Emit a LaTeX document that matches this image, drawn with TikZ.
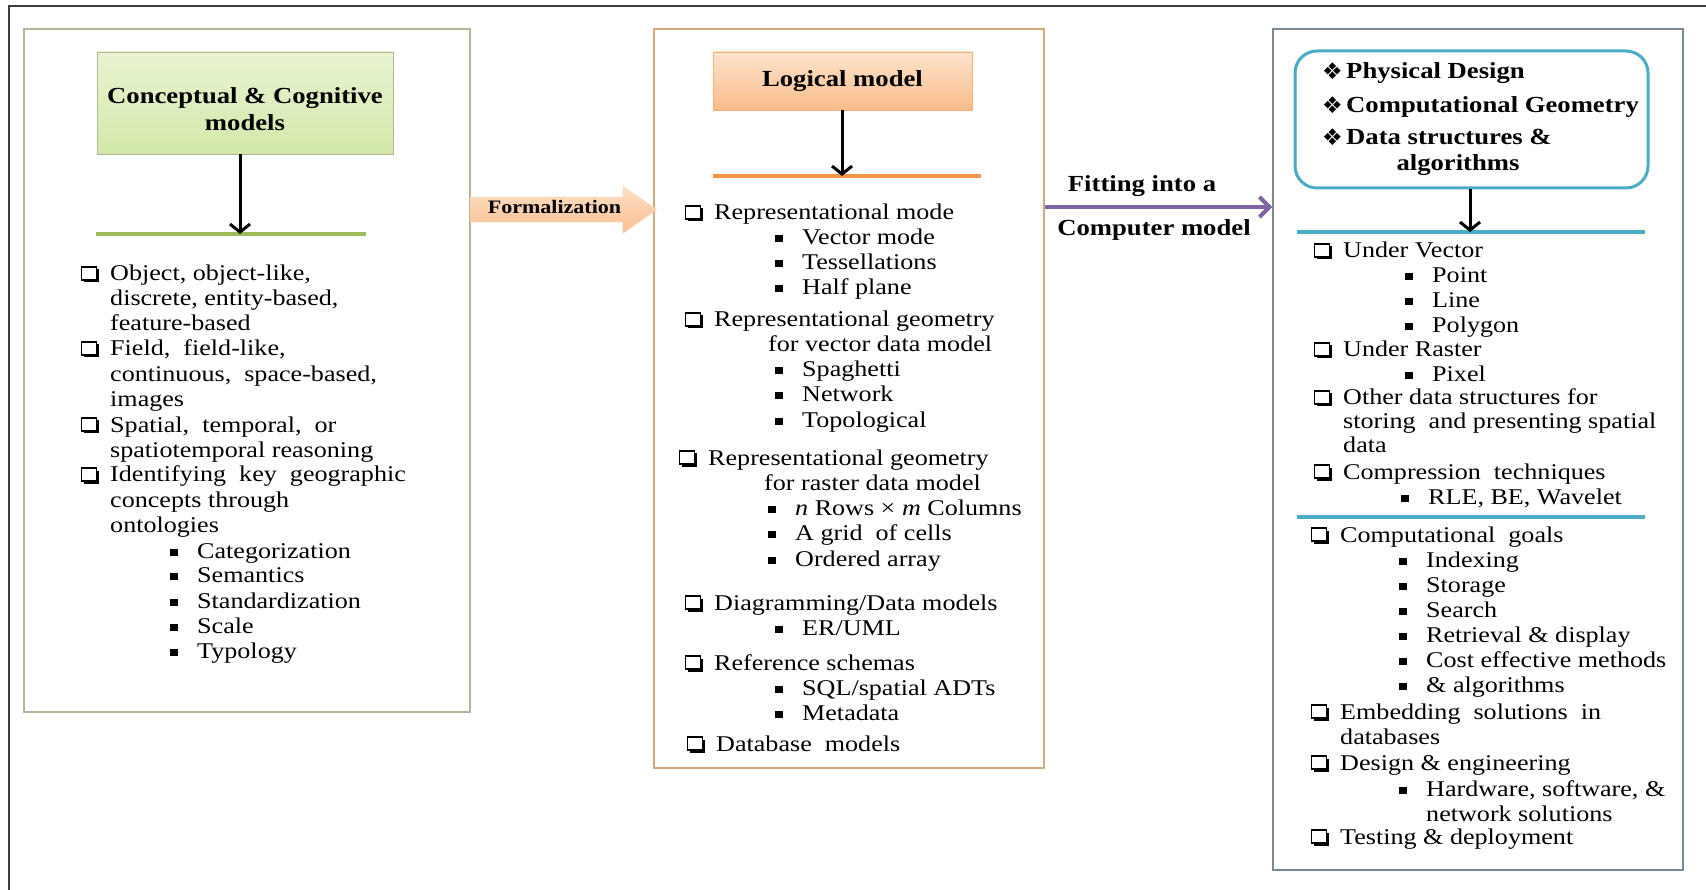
\documentclass[tikz,border=0pt]{standalone}
\usepackage{fontspec}
\setmainfont{Liberation Serif}[FakeStretch=1.16]
\newfontfamily\symfont{DejaVu Sans}
\usetikzlibrary{arrows.meta,shapes.arrows,shadows}
\definecolor{frameg}{HTML}{3C3C3C}
\definecolor{olivebox}{HTML}{B4B496}
\definecolor{tanbox}{HTML}{D2AA7A}
\definecolor{bluebox}{HTML}{7A8896}
\definecolor{greenln}{HTML}{9BBB59}
\definecolor{orangeln}{HTML}{F79646}
\definecolor{tealln}{HTML}{4BACC6}
\definecolor{purpln}{HTML}{8064A2}

\begin{document}
\begin{tikzpicture}[x=1pt,y=-1pt,
	bigbox/.style={draw, line width=1.5pt, inner sep=0pt},
	txt/.style={anchor=base west, inner sep=0pt, text height=18pt, text depth=3pt, font={\fontsize{22.5}{27}\selectfont}},
	cbox/.style={draw, fill=white, line width=1.5pt, minimum width=15pt, minimum height=13pt, inner sep=0pt, label distance=13pt, drop shadow={shadow xshift=2.5pt, shadow yshift=-2.5pt, opacity=1, fill=black}},
	sqb/.style={fill=black, minimum width=7.5pt, minimum height=7pt, inner sep=0pt, label distance=19pt, yshift=-1.5pt},
	chk/.style={txt, label={[cbox]left:{}}},
	bul/.style={txt, label={[sqb]left:{}}},
	dia/.style={font={\symfont\fontsize{23}{26}\selectfont}, inner sep=0pt, label distance=3pt},
	hd/.style={anchor=base west, inner sep=0pt, text height=18pt, text depth=3pt, font={\bfseries\fontsize{23}{27}\selectfont}},
	bold/.style={inner sep=0pt, font={\bfseries\fontsize{23}{27}\selectfont}},
	dnarrow/.style={line width=3pt, -{Straight Barb[length=8pt,width=20pt]}},
	sep/.style={line width=4pt}]
				\useasboundingbox (0,0) rectangle (1706,890);
				\fill[white] (0,0) rectangle (1706,890);
				\draw[frameg, line width=2pt] (9,890) -- (9,6) -- (1706,6);
				\node[bigbox, draw=olivebox, minimum width=446pt, minimum height=683pt] (leftbox) at (247,370.5) {};
				\node[bigbox, draw=tanbox, minimum width=390pt, minimum height=739pt] (midbox) at (849,398.5) {};
				\node[bigbox, draw=bluebox, minimum width=410pt, minimum height=841pt] (rightbox) at (1478,449.5) {};
				\node[draw=olivebox, line width=0.8pt, top color={rgb,255:red,232;green,244;blue,210}, bottom color={rgb,255:red,211;green,232;blue,170}, minimum width=296pt, minimum height=102pt] (concept) at (245,103) {};
				\node[bold, align=center] (concepttxt) at (245,109) {Conceptual \& Cognitive\\models};
				\node[bold, draw={rgb,255:red,240;green,178;blue,122}, line width=0.8pt, top color={rgb,255:red,253;green,227;blue,204}, bottom color={rgb,255:red,249;green,189;blue,139}, minimum width=259pt, minimum height=58pt] (logic) at (842.5,81) {Logical model};
				\node[draw=tealln, line width=3pt, rounded corners=22pt, minimum width=353pt, minimum height=137pt] (hdrbox) at (1471.5,119.5) {};
				\node[single arrow, single arrow head extend=11.5pt, single arrow tip angle=70, minimum height=187pt, inner xsep=2pt, inner ysep=4pt, text height=13pt, text depth=4pt, top color={rgb,255:red,253;green,224;blue,200}, bottom color={rgb,255:red,249;green,191;blue,144}, font={\bfseries\fontsize{19}{22}\selectfont}] (formal) at (554.5,209.5) {Formalization};
				\coordinate (gl) at (240,234);
				\coordinate (ol) at (842,176);
				\coordinate (tl) at (1470,232);
				\coordinate (fitmid) at (1158,207);
				\draw[sep, greenln] (96,234) -- (366,234);
				\draw[sep, orangeln] (713,176) -- (981,176);
				\draw[sep, tealln] (1297,232) -- (1645,232);
				\draw[sep, tealln] (1297,517) -- (1645,517);
				\draw[dnarrow] (concept.south -| gl) -- (gl);
				\draw[dnarrow] (logic.south -| ol) -- (ol);
				\draw[dnarrow] (hdrbox.south -| tl) -- (tl);
				\draw[purpln, line width=4pt, -{Straight Barb[length=10pt,width=20pt]}] (midbox.east |- fitmid) -- (rightbox.west |- fitmid);
				\node[bold, anchor=base] (fit1) at (1142,192) {Fitting into a};
				\node[bold, anchor=base] (fit2) at (1154,236) {Computer model};
				\node[hd, label={[dia]left:❖}] (H1) at (1346,79) {Physical Design};
				\node[hd, label={[dia]left:❖}] (H2) at (1346,113) {Computational Geometry};
				\node[hd, label={[dia]left:❖}] (H3) at (1346,145) {Data structures \&};
				\node[hd, anchor=base] (H4) at (1458,171) {algorithms};
				\node[chk] (L1) at (110,281) {Object, object-like,};
				\node[txt] (L2) at (110,306) {discrete, entity-based,};
				\node[txt] (L3) at (110,331) {feature-based};
				\node[chk] (L4) at (110,356) {Field,\ \ field-like,};
				\node[txt] (L5) at (110,382) {continuous,\ \ space-based,};
				\node[txt] (L6) at (110,407) {images};
				\node[chk] (L7) at (110,432) {Spatial,\ \ temporal,\ \ or};
				\node[txt] (L8) at (110,457) {spatiotemporal reasoning};
				\node[chk] (L9) at (110,482) {Identifying\ \ key\ \ geographic};
				\node[txt] (L10) at (110,507) {concepts through};
				\node[txt] (L11) at (110,532) {ontologies};
				\node[bul] (L12) at (197,558) {Categorization};
				\node[bul] (L13) at (197,582) {Semantics};
				\node[bul] (L14) at (197,608) {Standardization};
				\node[bul] (L15) at (197,633) {Scale};
				\node[bul] (L16) at (197,658) {Typology};
				\node[chk] (M1) at (714,220) {Representational mode};
				\node[bul] (M2) at (802,245) {Vector mode};
				\node[bul] (M3) at (802,270) {Tessellations};
				\node[bul] (M4) at (802,295) {Half plane};
				\node[chk] (M5) at (714,327) {Representational geometry};
				\node[txt] (M6) at (768,352) {for vector data model};
				\node[bul] (M7) at (802,377) {Spaghetti};
				\node[bul] (M8) at (802,402) {Network};
				\node[bul] (M9) at (802,428) {Topological};
				\node[chk] (M10) at (708,465) {Representational geometry};
				\node[txt] (M11) at (764,490) {for raster data model};
				\node[bul] (M12) at (795,515) {\textit{n} Rows × \textit{m} Columns};
				\node[bul] (M13) at (795,540) {A grid\ \ of cells};
				\node[bul] (M14) at (795,566) {Ordered array};
				\node[chk] (M15) at (714,610) {Diagramming/Data models};
				\node[bul] (M16) at (802,635) {ER/UML};
				\node[chk] (M17) at (714,670) {Reference schemas};
				\node[bul] (M18) at (802,695) {SQL/spatial ADTs};
				\node[bul] (M19) at (802,720) {Metadata};
				\node[chk] (M20) at (716,751) {Database\ \ models};
				\node[chk] (R1) at (1343,258) {Under Vector};
				\node[bul] (R2) at (1432,283) {Point};
				\node[bul] (R3) at (1432,308) {Line};
				\node[bul] (R4) at (1432,333) {Polygon};
				\node[chk] (R5) at (1343,357) {Under Raster};
				\node[bul] (R6) at (1432,382) {Pixel};
				\node[chk] (R7) at (1343,405) {Other data structures for};
				\node[txt] (R8) at (1343,429) {storing\ \ and presenting spatial};
				\node[txt] (R9) at (1343,453) {data};
				\node[chk] (R10) at (1343,479) {Compression\ \ techniques};
				\node[bul] (R11) at (1428,504) {RLE, BE, Wavelet};
				\node[chk] (R12) at (1340,542) {Computational\ \ goals};
				\node[bul] (R13) at (1426,567) {Indexing};
				\node[bul] (R14) at (1426,592) {Storage};
				\node[bul] (R15) at (1426,617) {Search};
				\node[bul] (R16) at (1426,642) {Retrieval \& display};
				\node[bul] (R17) at (1426,667) {Cost effective methods};
				\node[bul] (R18) at (1426,692) {\& algorithms};
				\node[chk] (R19) at (1340,719) {Embedding\ \ solutions\ \ in};
				\node[txt] (R20) at (1340,744) {databases};
				\node[chk] (R21) at (1340,770) {Design \& engineering};
				\node[bul] (R22) at (1426,796) {Hardware, software, \&};
				\node[txt] (R23) at (1426,821) {network solutions};
				\node[chk] (R24) at (1340,844) {Testing \& deployment};
			\end{tikzpicture}
\end{document}
